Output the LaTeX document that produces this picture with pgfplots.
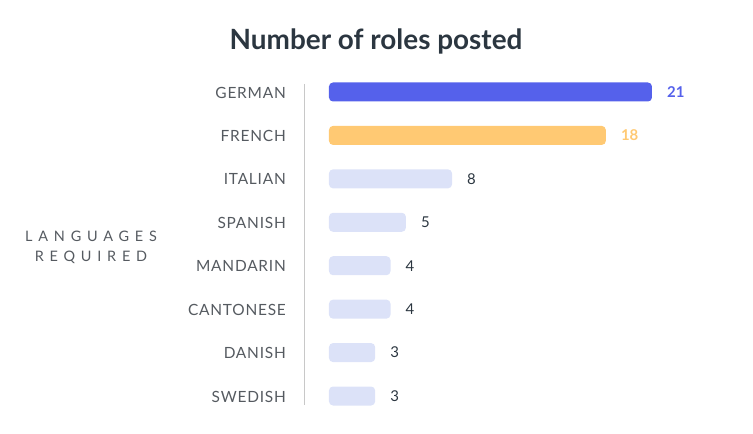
\documentclass[border=0pt]{standalone}
\usepackage{fontspec}
\setmainfont{Lato}
\newfontfamily\labfont[LetterSpace=5]{Lato}
\newfontfamily\widefont[LetterSpace=40]{Lato}
\usepackage{pgfplots}
\pgfplotsset{compat=1.18}
\definecolor{bluec}{HTML}{5561EB}
\definecolor{orangec}{HTML}{FFC973}
\definecolor{lightc}{HTML}{DCE2F8}
\definecolor{titlec}{HTML}{2B3640}
\definecolor{labc}{HTML}{555A60}
\definecolor{linec}{HTML}{C8C8C8}
\begin{document}
\begin{tikzpicture}
\useasboundingbox (0bp,0bp) rectangle (753bp,434bp);
\node[font=\fontsize{28}{32}\selectfont\bfseries, text=titlec] at (376bp,393bp) {Number of roles posted};
\node[font=\widefont\fontsize{14.5}{20}\selectfont, text=labc, align=center] at (91bp,187bp) {LANGUAGES\\REQUIRED};
\begin{axis}[
  at={(501.05bp,189.5bp)}, anchor=center,
  scale only axis, width=394.1bp, height=321bp,
  xmin=-1.625, xmax=24, ymin=-0.184, ymax=7.207,
  y dir=reverse,
  xbar, bar width=19bp, bar shift=0pt,
  axis x line=none, axis y line=left,
  axis line style={-, draw=linec, line width=0.8bp},
  xtick=\empty,
  ytick={0,...,7},
  yticklabels={GERMAN,FRENCH,ITALIAN,SPANISH,MANDARIN,CANTONESE,DANISH,SWEDISH},
  yticklabel style={font=\labfont\fontsize{15.5}{16}\selectfont, text=labc, inner sep=0pt, xshift=-18bp, yshift=-0.5bp},
  major tick length=0pt,
  clip=false,
  /pgf/number format/assume math mode=true,
  nodes near coords,
  nodes near coords style={anchor=west, inner sep=0pt, xshift=15bp, font=\fontsize{15}{16}\selectfont, text=titlec},
]
\addplot[fill=bluec, draw=none, rounded corners=4bp,
  every node near coord/.append style={text=bluec, font=\fontsize{15}{16}\selectfont\bfseries}]
  coordinates {(21,0)};
\addplot[fill=orangec, draw=none, rounded corners=4bp,
  every node near coord/.append style={text=orangec, font=\fontsize{15}{16}\selectfont\bfseries}]
  coordinates {(18,1)};
\addplot[fill=lightc, draw=none, rounded corners=4bp]
  coordinates {(8,2) (5,3) (4,4) (4,5) (3,6) (3,7)};
\end{axis}
\end{tikzpicture}
\end{document}
